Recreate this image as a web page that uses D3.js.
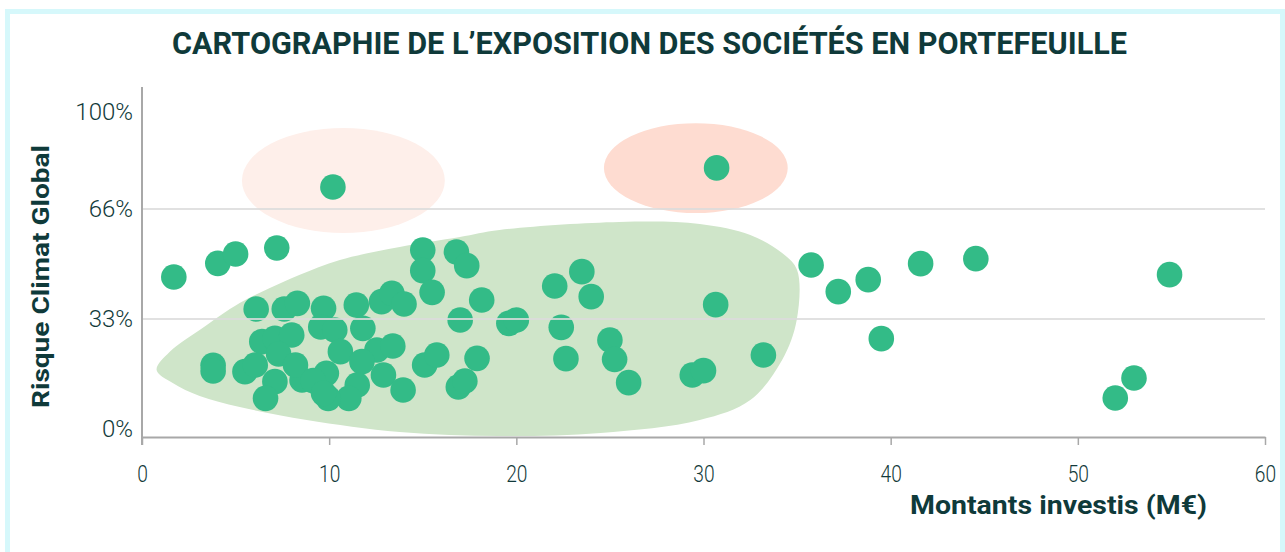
<!DOCTYPE html>
<html>
<head>
<meta charset="utf-8">
<script src="https://cdn.jsdelivr.net/npm/d3@7"></script>
<style>
    body { margin: 0; background: #fff; }
    svg { display: block; font-family: Roboto, sans-serif; }
    .tick text { fill: #123a3a; }
</style>
</head>
<body>
<div id="chart"></div>
<script>
// ---- size of the picture
const w = 1285;
const h = 552;

//  ----   plot area   ------
const pLeft = 142;
const pRight = 20;
const pTop = 87;
const axisY = 437; // x axis line sits a bit under 0%

// ---- DATA: one entry per company
const montants = [
    1.7, 4.05, 5.0, 7.2, 10.2, 30.7, 15.0, 16.8, 17.35, 15.0,
    15.5, 18.15, 6.1, 7.6, 8.3, 9.7, 11.45, 12.8, 13.35, 14.0,
    17.0, 19.6, 20.0, 22.05, 23.5, 24.0, 22.4, 25.0, 25.25, 26.0,
    22.65, 30.65, 29.4, 30.0, 33.2, 35.75, 37.2, 38.8, 39.5, 41.6,
    44.55, 54.9, 53.0, 52.0, 6.4, 7.1, 8.0, 7.3, 9.55, 10.3,
    11.8, 10.6, 12.55, 13.4, 11.75, 12.9, 13.95, 11.5, 11.05, 9.95,
    9.85, 15.1, 15.75, 16.9, 17.25, 17.9, 3.8, 3.8, 5.5, 6.05,
    7.1, 6.6, 8.55, 8.2, 9.15, 9.7
];
const risques = [
    45.6, 49.7, 52.5, 54.3, 73.7, 80.4, 53.7, 53.1, 49.0, 47.5,
    41.0, 38.7, 36.0, 36.0, 37.7, 36.2, 37.2, 38.2, 40.7, 37.5,
    32.7, 31.7, 32.7, 42.9, 47.2, 39.7, 30.5, 26.7, 20.9, 13.9,
    21.1, 37.3, 16.2, 17.5, 22.2, 49.2, 41.2, 44.8, 27.1, 49.6,
    51.1, 46.3, 15.3, 9.3, 26.2, 27.2, 28.2, 22.5, 30.6, 29.7,
    30.2, 23.2, 23.7, 24.9, 20.2, 16.2, 11.7, 13.2, 9.2, 9.2,
    16.7, 19.2, 22.2, 12.6, 14.4, 21.2, 19.1, 17.4, 17.2, 19.2,
    14.2, 9.2, 14.7, 19.2, 14.5, 10.7
];

// ---- tick values
const xTicks = [0, 10, 20, 30, 40, 50, 60];
const yTicks = [0, 33, 66, 100];

// ---- zones (in data units: M€ and %)
// low risk zone outline
const zoneX = [0.78, 1.64, 3.08, 5.22, 8.8, 13.77, 19.1, 24.5, 29.8, 32.5, 34.2, 34.98,
    35.0, 34.2, 32.5, 29.8, 25.5, 19.1, 16.98, 13.77, 10.57, 8.4, 6.83, 5.22, 3.08, 1.47];
const zoneY = [17.7, 13.8, 9.9, 6.6, 2.7, -0.9, -2.1, -1.2, 2.7, 8.7, 20.7, 32.7,
    47.7, 52.8, 58.2, 61.5, 62.1, 59.7, 57.6, 54.6, 50.7, 46.2, 42.3, 37.8, 29.7, 23.1];
// high risk ellipses: [x min, x max, y min, y max]
const ellipses = [
    { box: [5.34, 16.18, 58.8, 94.4], color: "#feefea" },
    { box: [24.68, 34.5, 64.8, 96.1], color: "#fedcd1" },
];

const pointColor = "#33bb87";
const textColor = "#0f3a3a";

// SCALES
const xScale = d3.scaleLinear().domain([0, 60]).range([pLeft, w - pRight]);
// label spacing in the source is not even, so piecewise
const yScale = d3.scaleLinear().domain(yTicks).range([429, 319, 209, 112]);

const svg = d3.select("#chart").append("svg").attr("width", w).attr("height", h);

// frame
svg.append("rect")
    .attr("x", 7.5).attr("y", 11.5)
    .attr("width", w - 10).attr("height", h - 5)
    .attr("fill", "#fff")
    .attr("stroke", "#d6f8fb")
    .attr("stroke-width", 5);

//TITLE
svg.append("text")
    .attr("x", 649.5)
    .attr("y", 54)
    .attr("text-anchor", "middle")
    .attr("font-size", 32)
    .attr("font-weight", 700)
    .attr("textLength", 955)
    .attr("lengthAdjust", "spacingAndGlyphs")
    .attr("fill", textColor)
    .text("CARTOGRAPHIE DE L’EXPOSITION DES SOCIÉTÉS EN PORTEFEUILLE");

// ZONES
svg.selectAll(".risk")
    .data(ellipses)
    .enter()
    .append("ellipse")
    .attr("class", "risk")
    .attr("cx", (d) => (xScale(d.box[0]) + xScale(d.box[1])) / 2)
    .attr("cy", (d) => (yScale(d.box[2]) + yScale(d.box[3])) / 2)
    .attr("rx", (d) => (xScale(d.box[1]) - xScale(d.box[0])) / 2)
    .attr("ry", (d) => (yScale(d.box[2]) - yScale(d.box[3])) / 2)
    .attr("fill", (d) => d.color);

const zoneLine = d3.line()
    .x((i) => xScale(zoneX[i]))
    .y((i) => yScale(zoneY[i]))
    .curve(d3.curveCatmullRomClosed.alpha(0.5));

svg.append("path")
    .attr("d", zoneLine(d3.range(zoneX.length)))
    .attr("fill", "#cfe5c9");

// POINTS
svg.append("g")
    .selectAll("circle")
    .data(d3.range(montants.length))
    .enter()
    .append("circle")
    .attr("cx", (i) => xScale(montants[i]))
    .attr("cy", (i) => yScale(risques[i]))
    .attr("r", 12.8)
    .attr("fill", pointColor);

// GRID (drawn over the marks, as in the source)
svg.append("g")
    .selectAll("line")
    .data(yTicks.filter((t) => t > 0 && t < 100))
    .enter()
    .append("line")
    .attr("x1", pLeft).attr("x2", w - pRight)
    .attr("y1", (d) => yScale(d)).attr("y2", (d) => yScale(d))
    .attr("stroke", "#dcdcdc")
    .attr("stroke-opacity", 0.85)
    .attr("stroke-width", 2);

// X AXIS
const xAxis = d3.axisBottom(xScale).tickValues(xTicks).tickSize(8).tickSizeOuter(0).tickPadding(20);
const gx = svg.append("g")
    .attr("transform", `translate(0, ${axisY})`)
    .call(xAxis);
gx.select(".domain").attr("stroke", "#a8a8a8").attr("stroke-width", 2);
gx.selectAll(".tick line").attr("stroke", "#a8a8a8").attr("stroke-width", 1.5);
gx.selectAll(".tick text")
    .attr("font-size", 24)
    .attr("font-weight", 300)
    .attr("font-family", "Roboto, sans-serif")
    .attr("transform", "scale(0.8,1)");

// Y AXIS
const yAxis = d3.axisLeft(yScale).tickValues(yTicks).tickSize(0).tickPadding(9).tickFormat((d) => d + "%");
const gy = svg.append("g")
    .attr("transform", `translate(${pLeft}, 0)`)
    .call(yAxis);
gy.select(".domain").remove();
gy.selectAll(".tick text")
    .attr("font-size", 24)
    .attr("font-weight", 300)
    .attr("font-family", "Roboto, sans-serif");
svg.append("line")
    .attr("x1", pLeft).attr("x2", pLeft)
    .attr("y1", pTop).attr("y2", axisY + 8)
    .attr("stroke", "#a8a8a8")
    .attr("stroke-width", 2);

// X-LABEL
svg.append("text")
    .attr("x", 910)
    .attr("y", 514)
    .attr("font-size", 25)
    .attr("font-weight", 700)
    .attr("textLength", 297)
    .attr("lengthAdjust", "spacingAndGlyphs")
    .attr("fill", textColor)
    .text("Montants investis (M€)");

// Y-LABEL
svg.append("text")
    .attr("transform", "translate(49, 276.5) rotate(-90)")
    .attr("text-anchor", "middle")
    .attr("font-size", 24)
    .attr("font-weight", 700)
    .attr("textLength", 263)
    .attr("lengthAdjust", "spacingAndGlyphs")
    .attr("fill", textColor)
    .text("Risque Climat Global");
</script>
</body>
</html>
